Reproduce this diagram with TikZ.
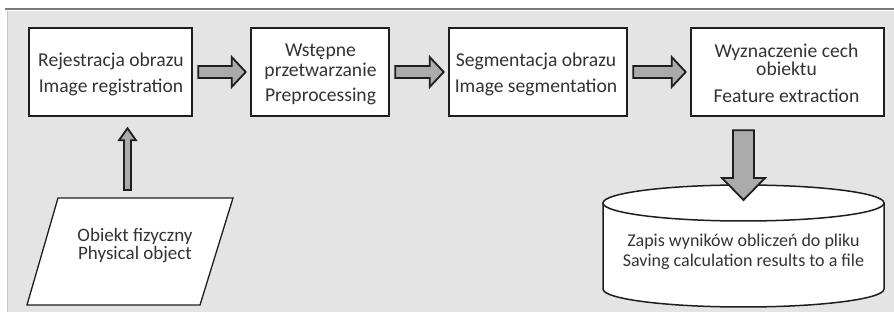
\documentclass[tikz,border=0pt]{standalone}
\usepackage{fontspec}
\setmainfont{Carlito}
\usetikzlibrary{calc}
\definecolor{edge}{HTML}{1E1E1E}
\definecolor{txtc}{HTML}{333333}
\definecolor{arrfill}{HTML}{ABABAB}
\definecolor{panel}{HTML}{E4E4E4}
\definecolor{topline}{HTML}{7A7A7A}
\newcommand{\harrow}[2]{%
  \draw[barrow] let \p1=($(#1.east)+(5,0)$), \p2=($(#2.west)+(-4,0)$) in
    (\x1,\y1+6) -- (\x2-14,\y1+6) -- (\x2-14,\y1+15) -- (\x2,\y1)
    -- (\x2-14,\y1-15) -- (\x2-14,\y1-6) -- (\x1,\y1-6) -- cycle;}
\begin{document}
\begin{tikzpicture}[x=1pt,y=1pt,
  box/.style={draw=edge, line width=2.6pt, fill=white, minimum width=#1, minimum height=88pt, inner sep=0pt},
  txt/.style={font=\fontsize{19.6}{22}\selectfont, text=txtc, inner sep=0pt, anchor=base},
  ptxt/.style={txt, font=\fontsize{19}{21}\selectfont},
  ctxt/.style={txt, font=\fontsize{18}{20}\selectfont},
  barrow/.style={draw=edge, line width=1.8pt, fill=arrfill, line join=miter}]
\useasboundingbox (0,0) rectangle (894,321);
% background
\fill[panel] (7,9) rectangle (894,310);
\draw[black!22, line width=0.8pt] (7,9) -- (7,310);
\draw[topline, line width=1.2pt] (5,312) -- (894,312);
% boxes
\node[box=163pt] (b1) at (110.5,249) {};
\node[box=138pt] (b2) at (320,249) {};
\node[box=178pt] (b3) at (538,249) {};
\node[box=193pt] (b4) at (787.5,249) {};
% texts
\node[txt] (t1a) at (111,254) {Rejestracja obrazu};
\node[txt] (t1b) at (111,228) {Image registration};
\node[txt] (t2a) at (320.5,264) {Wstępne};
\node[txt] (t2b) at (320.5,244) {przetwarzanie};
\node[txt] (t2c) at (320.5,219) {Preprocessing};
\node[txt] (t3a) at (536,254) {Segmentacja obrazu};
\node[txt] (t3b) at (536,228) {Image segmentation};
\node[txt] (t4a) at (786.5,263) {Wyznaczenie cech};
\node[txt] (t4b) at (786.5,245) {obiektu};
\node[txt] (t4c) at (786.5,218) {Feature extraction};
% horizontal arrows
\harrow{b1}{b2}
\harrow{b2}{b3}
\harrow{b3}{b4}
% parallelogram
\draw[edge, line width=1.3pt, fill=white] (58,123) -- (233,123) -- (200,16) -- (27,16) -- cycle;
\coordinate (po) at (127.5,123);
\node[ptxt] (p1) at (135,79) {Obiekt fizyczny};
\node[ptxt] (p2) at (135,61) {Physical object};
% up arrow
\draw[barrow] let \p1=($(po)+(0,8)$), \p2=($(b1.south)+(0,-11)$) in
  (\x1-3.5,\y1) -- (\x1-3.5,\y2-12) -- (\x1-8.5,\y2-12) -- (\x1,\y2)
  -- (\x1+8.5,\y2-12) -- (\x1+3.5,\y2-12) -- (\x1+3.5,\y1) -- cycle;
% cylinder
\draw[edge, line width=1.5pt, fill=white] (603,118) -- (603,32)
  arc[start angle=180, end angle=360, x radius=140.5pt, y radius=18pt] -- (884,118);
\draw[edge, line width=1.5pt, fill=white] (743.5,118) ellipse[x radius=140.5pt, y radius=18pt];
\coordinate (cyl) at (743.5,121);
\node[ctxt] (c1) at (743.5,74) {Zapis wyników obliczeń do pliku};
\node[ctxt] (c2) at (743.5,54) {Saving calculation results to a file};
% down arrow
\draw[barrow] let \p1=($(b4.south)+(-44.5,-13)$), \p2=(cyl) in
  (\x2-10.5,\y1) -- (\x2-10.5,\y2+22) -- (\x2-21.5,\y2+22) -- (\x2,\y2)
  -- (\x2+21.5,\y2+22) -- (\x2+10.5,\y2+22) -- (\x2+10.5,\y1) -- cycle;
\end{tikzpicture}
\end{document}
